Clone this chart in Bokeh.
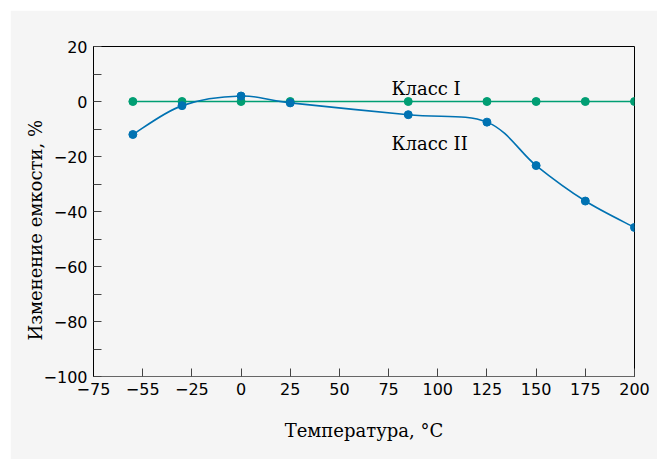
from bokeh.plotting import figure
from bokeh.models import FixedTicker, Title
from bokeh.core.properties import value
from bokeh.embed import file_html
from bokeh.resources import INLINE

# ---- data ----
temps = [-55, -30, 0, 25, 85, 125, 150, 175, 200]
class1 = [0, 0, 0, 0, 0, 0, 0, 0, 0]
class2 = [-12, -1.5, 2, -0.5, -4.8, -7.5, -23.3, -36.2, -45.8]

x_ticks = [-75, -50, -25, 0, 25, 50, 75, 100, 125, 150, 175, 200]
x_tick_labels = ["−75", "−55", "−25", "0", "25", "50", "75", "100", "125", "150", "175", "200"]
y_ticks = [-100, -80, -60, -40, -20, 0, 20]
y_tick_labels = ["−100", "−80", "−60", "−40", "−20", "0", "20"]
y_minor = [-90, -70, -50, -30, -10, 10]

GREEN = "#009E73"
BLUE = "#0072B2"
BG = "#f5f5f5"
SERIF = "DejaVu Serif"
SANS = "DejaVu Sans"

p = figure(width=647, height=449, output_backend="svg", toolbar_location=None,
           x_range=(-75, 200), y_range=(-100, 20),
           min_border_left=83, min_border_right=23, min_border_top=36, min_border_bottom=83)
p.margin = (10, 0, 0, 10)
p.background_fill_color = BG
p.border_fill_color = BG
p.outline_line_color = "black"
p.outline_line_width = 1
p.grid.visible = False

# axes
p.xaxis.ticker = FixedTicker(ticks=x_ticks)
p.xaxis.major_label_overrides = {t: l for t, l in zip(x_ticks, x_tick_labels)}
p.yaxis.ticker = FixedTicker(ticks=y_ticks, minor_ticks=y_minor)
p.yaxis.major_label_overrides = {t: l for t, l in zip(y_ticks, y_tick_labels)}
for ax in (p.xaxis[0], p.yaxis[0]):
    ax.major_tick_in = 8
    ax.major_tick_out = 0
    ax.minor_tick_in = 8
    ax.minor_tick_out = 0
    ax.major_label_text_font = SANS
    ax.major_label_text_font_size = "16px"
    ax.major_label_text_color = "black"
    ax.major_label_standoff = 6
p.xaxis.minor_tick_line_color = None
p.xaxis.axis_line_color = "#666666"
p.xaxis.major_tick_line_color = "#444444"
p.yaxis.axis_line_color = "black"
p.yaxis.major_tick_line_color = "#444444"
p.yaxis.minor_tick_line_color = "#444444"

p.xaxis.axis_label = "Температура, °C"
p.xaxis.axis_label_text_font = SERIF
p.xaxis.axis_label_text_font_size = "18px"
p.xaxis.axis_label_text_font_style = "normal"
p.xaxis.axis_label_text_color = "black"
p.xaxis.axis_label_standoff = 22

# y label as a side title, shifted down as in the reference
p.add_layout(Title(text="Изменение емкости, %", align="left", offset=36,
                   text_font=SERIF, text_font_size="18px", text_font_style="normal",
                   text_color="black", standoff=-10), "left")

# class I
p.line(temps, class1, line_color=GREEN, line_width=1.6)
p.scatter(temps, class1, size=8, fill_color=GREEN, line_color=GREEN)

# class II smooth curve (Catmull-Rom -> Bezier)
n = len(temps)
x0s, y0s, x1s, y1s, cx0, cy0, cx1, cy1 = [], [], [], [], [], [], [], []
for i in range(n - 1):
    xa, ya = temps[max(i - 1, 0)], class2[max(i - 1, 0)]
    xb, yb = temps[i], class2[i]
    xc, yc = temps[i + 1], class2[i + 1]
    xd, yd = temps[min(i + 2, n - 1)], class2[min(i + 2, n - 1)]
    x0s.append(xb); y0s.append(yb); x1s.append(xc); y1s.append(yc)
    cx0.append(xb + (xc - xa) / 6); cy0.append(yb + (yc - ya) / 6)
    cx1.append(xc - (xd - xb) / 6); cy1.append(yc - (yd - yb) / 6)
p.bezier(x0=x0s, y0=y0s, x1=x1s, y1=y1s, cx0=cx0, cy0=cy0, cx1=cx1, cy1=cy1,
         line_color=BLUE, line_width=1.6)
p.scatter(temps, class2, size=8, fill_color=BLUE, line_color=BLUE)

p.text(x=[76.5], y=[4.7], text=["Класс I"], text_font=value(SERIF), text_font_size="18px",
       text_baseline="alphabetic", text_align="left", text_color="black")
p.text(x=[76.5], y=[-15.3], text=["Класс II"], text_font=value(SERIF), text_font_size="18px",
       text_baseline="alphabetic", text_align="left", text_color="black")

open("out.html", "w").write(file_html(p, INLINE))
